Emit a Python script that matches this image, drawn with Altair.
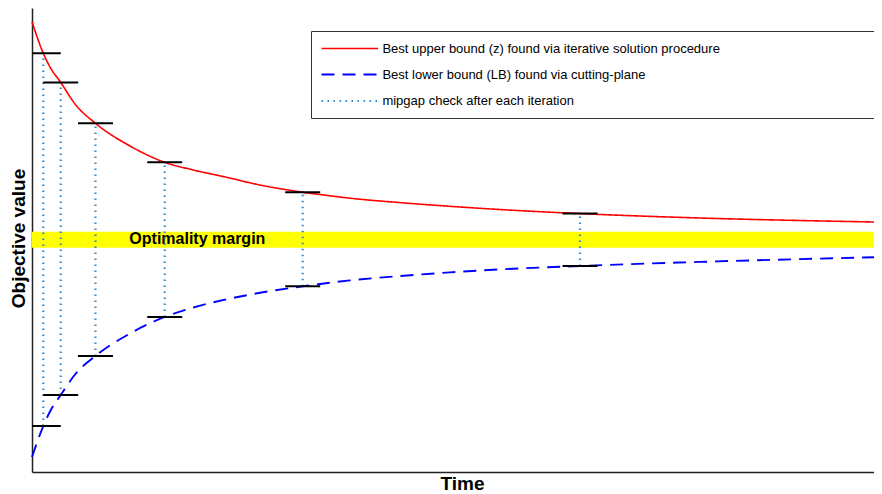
import altair as alt
import pandas as pd

# ---------------- data ----------------
series_names = [
    "Best upper bound (z) found via iterative solution procedure",
    "Best lower bound (LB) found via cutting-plane",
    "mipgap check after each iteration",
]
series_colors = ["#ff0000", "#0000ff", "#2f8bcc"]
series_dashes = [[1, 0], [13, 8], [1.5, 4.5]]
series_widths = [1.6, 2.2, 1.8]

upper_time = [0.0, 1.34, 2.14, 3.41, 5.11, 7.54, 11.64, 15.76, 19.16, 23.12, 27.08,
              31.03, 32.15, 34.20, 37.77, 43.71, 49.64, 55.58, 65.08, 79.33, 91.21, 100.0]
upper_value = [97.05, 90.24, 87.28, 83.96, 79.31, 75.15, 70.26, 66.75, 65.09, 63.51, 61.85,
               60.60, 60.28, 59.81, 59.01, 58.06, 57.26, 56.57, 55.69, 54.74, 54.20, 53.88]

lower_time = [0.0, 1.34, 2.14, 3.41, 5.11, 7.54, 11.64, 15.76, 19.16, 23.12, 27.08,
              31.03, 32.15, 34.20, 37.77, 43.71, 49.64, 55.58, 65.08, 79.33, 91.21, 100.0]
lower_value = [3.23, 9.91, 13.04, 16.59, 21.01, 25.00, 29.85, 33.41, 35.45, 37.22, 38.62,
               39.74, 40.02, 40.52, 41.29, 42.24, 43.02, 43.66, 44.40, 45.28, 45.88, 46.27]

check_time = [1.34, 3.41, 7.54, 15.76, 32.15, 65.08]
check_upper = [90.24, 83.96, 75.15, 66.75, 60.28, 55.69]
check_lower = [9.91, 16.59, 25.00, 33.41, 40.02, 44.40]

margin_low = 48.34
margin_high = 51.79
margin_label = "Optimality margin"
margin_label_time = 11.56
margin_label_value = 49.14

time_domain = [0, 100]
value_domain = [0, 100]

# ---------------- tables ----------------
lines_df = pd.concat([
    pd.DataFrame({"time": upper_time, "value": upper_value, "series": series_names[0]}),
    pd.DataFrame({"time": lower_time, "value": lower_value, "series": series_names[1]}),
])
checks_df = pd.DataFrame({"time": check_time, "upper": check_upper,
                          "lower": check_lower, "series": series_names[2]})
band_df = pd.DataFrame({"t0": [time_domain[0]], "t1": [time_domain[1]],
                        "lo": [margin_low], "hi": [margin_high]})
label_df = pd.DataFrame({"time": [margin_label_time], "value": [margin_label_value],
                         "text": [margin_label]})

x_scale = alt.Scale(domain=time_domain, nice=False, zero=False)
y_scale = alt.Scale(domain=value_domain, nice=False, zero=False)

x_axis = alt.Axis(title="Time", labels=False, ticks=False, grid=False,
                  domainColor="#222222", domainWidth=1.5, titleFont="Liberation Sans",
                  titleFontSize=19, titleFontWeight="bold", titleColor="black",
                  titlePadding=2, titleX=430)
y_axis = alt.Axis(title="Objective value", labels=False, ticks=False, grid=False,
                  domainColor="#222222", domainWidth=1.5, titleFont="Liberation Sans",
                  titleFontSize=19, titleFontWeight="bold", titleColor="black",
                  titlePadding=4, titleY=230)

# the legend frame runs off the right edge of the picture: widen it with
# non-breaking spaces closed by a zero-width space (so they are not trimmed)
pad = "\u00a0" * 40 + "\u200b"
legend = alt.Legend(
    title=None, orient="none", legendX=279, legendY=23,
    strokeColor="#333333", fillColor="white", padding=10, rowPadding=11,
    labelFont="Liberation Sans", labelFontSize=13, labelColor="black",
    labelLimit=3000, labelOffset=24.6, symbolOffset=20.8,
    symbolType="M-4.354,0H4.354", symbolSize=169,
    symbolStrokeWidth=1.6, labelExpr="datum.label + '" + pad + "'",
)

color_enc = alt.Color("series:N", scale=alt.Scale(domain=series_names, range=series_colors),
                      legend=legend)
dash_enc = alt.StrokeDash("series:N", scale=alt.Scale(domain=series_names, range=series_dashes),
                          legend=legend)
width_enc = alt.StrokeWidth("series:N", scale=alt.Scale(domain=series_names, range=series_widths),
                            legend=None)

band = alt.Chart(band_df).mark_rect(color="#ffff00").encode(
    x=alt.X("t0:Q", scale=x_scale, axis=x_axis),
    x2="t1:Q",
    y=alt.Y("lo:Q", scale=y_scale, axis=y_axis),
    y2="hi:Q",
)

band_text = alt.Chart(label_df).mark_text(
    align="left", baseline="alphabetic", font="Liberation Sans", fontSize=16,
    fontWeight="bold", color="black"
).encode(x=alt.X("time:Q", scale=x_scale), y=alt.Y("value:Q", scale=y_scale), text="text:N")

lines = alt.Chart(lines_df).mark_line(interpolate="monotone", strokeCap="butt").encode(
    x=alt.X("time:Q", scale=x_scale),
    y=alt.Y("value:Q", scale=y_scale),
    color=color_enc, strokeDash=dash_enc, strokeWidth=width_enc,
    order="time:Q",
)

rules = alt.Chart(checks_df).mark_rule(strokeCap="butt").encode(
    x=alt.X("time:Q", scale=x_scale),
    y=alt.Y("lower:Q", scale=y_scale),
    y2="upper:Q",
    color=color_enc, strokeDash=dash_enc, strokeWidth=width_enc,
)

ticks_up = alt.Chart(checks_df).mark_tick(
    orient="horizontal", size=35, thickness=2, color="black", opacity=1, clip=True
).encode(x=alt.X("time:Q", scale=x_scale), y=alt.Y("upper:Q", scale=y_scale))

ticks_low = alt.Chart(checks_df).mark_tick(
    orient="horizontal", size=35, thickness=2, color="black", opacity=1, clip=True
).encode(x=alt.X("time:Q", scale=x_scale), y=alt.Y("lower:Q", scale=y_scale))

chart = alt.layer(band, band_text, rules, lines, ticks_up, ticks_low).properties(
    width=842, height=464,
    padding={"left": 24, "top": 0, "right": 0, "bottom": 22},
    autosize=alt.AutoSizeParams(type="none"),
    background="white",
).configure_view(stroke=None)

chart.save("out.html", embed_options={"renderer": "svg", "actions": False})
